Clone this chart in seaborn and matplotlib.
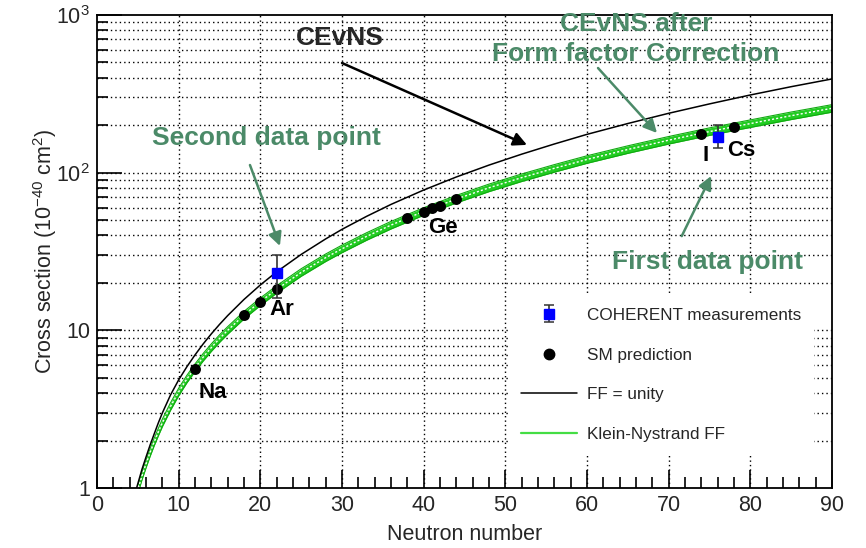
import numpy as np
import pandas as pd
import matplotlib
matplotlib.use("Agg")
import matplotlib.pyplot as plt
from matplotlib.lines import Line2D
from matplotlib.ticker import FixedLocator, NullFormatter
import seaborn as sns

# Flux-averaged CEvNS cross section vs neutron number (10^-40 cm^2)
N_unity = [4.85, 5.5, 6, 6.5, 7, 7.5, 8, 9, 10, 11, 12, 13, 14, 15, 16, 18, 20, 22, 25, 28,
           30, 33, 36, 40, 44, 48, 52, 56, 60, 65, 70, 75, 80, 85, 90]
sigma_unity = [1.0, 1.31, 1.57, 1.87, 2.2, 2.58, 2.99, 3.89, 4.85, 5.87, 6.98, 8.2, 9.5,
               10.9, 12.4, 15.7, 19.4, 23.5, 30.3, 38.0, 43.7, 52.8, 62.9, 77.6, 93.9,
               111.7, 131, 152, 175, 205, 238, 273, 311, 351, 393]

N_kn = [5.06, 5.5, 6, 6.5, 7, 7.5, 8, 9, 10, 11, 12, 13, 14, 15, 16, 18, 20, 22, 25, 28,
        30, 33, 36, 40, 44, 48, 52, 56, 60, 65, 70, 75, 80, 85, 90]
sigma_kn = [1.0, 1.19, 1.42, 1.68, 1.96, 2.26, 2.59, 3.29, 4.07, 4.91, 5.80, 6.76, 7.78,
            8.87, 10.0, 12.5, 15.2, 18.2, 23.3, 28.9, 32.9, 39.4, 46.5, 56.8, 68.0, 80.2,
            93.0, 106.6, 121.3, 140.3, 160.7, 182.3, 204.8, 229.8, 256]
kn_band_frac = 0.055

sm_N = [12, 18, 20, 22, 38, 40, 41, 42, 44, 74, 78]
sm_sigma = [5.7, 12.5, 15.1, 18.3, 51.8, 56.5, 59.4, 61.7, 67.7, 177, 195]

coh_N = [22, 76]
coh_sigma = [23, 169]
coh_err_lo = [7, 26]
coh_err_hi = [7, 31]

nuclei = ["Na", "Ar", "Ge", "I", "Cs"]
nuclei_pos = [(14.2, 4.06), (22.65, 13.5), (42.4, 44.6), (74.57, 129), (78.9, 139)]

x_ticks = list(range(0, 100, 10))
y_ticks = [1, 10, 100, 1000]
y_ticklabels = ["1", "10", "$10^2$", "$10^3$"]

sns.set_theme(style="ticks")
plt.rcParams["font.family"] = ["Liberation Sans", "DejaVu Sans"]
plt.rcParams["mathtext.fontset"] = "custom"
plt.rcParams["mathtext.rm"] = "Liberation Sans"
plt.rcParams["mathtext.it"] = "Liberation Sans:italic"
plt.rcParams["mathtext.bf"] = "Liberation Sans:bold"
plt.rcParams["axes.unicode_minus"] = False

GREEN_TXT = "#4b8a68"
BAND = "#22cc22"

fig = plt.figure(figsize=(8.66, 5.48), dpi=100)
ax = fig.add_axes([97 / 866, 60 / 548, 735 / 866, 473 / 548])
ax.set_yscale("log")
ax.set_xlim(0, 90)
ax.set_ylim(1, 1000)

# grid: dotted lines at x majors and every y tick (major + minor)
for xv in range(10, 90, 10):
    ax.axvline(xv, color="black", lw=1.0, ls=(0, (1, 2.2)), zorder=0.5)
for dec in [1, 10, 100]:
    for m in range(1, 10):
        yv = dec * m
        if 1 < yv < 1000:
            ax.axhline(yv, color="black", lw=1.0, ls=(0, (1, 2.2)), zorder=0.5)

# Klein-Nystrand band
kn = pd.DataFrame({"N": N_kn, "sigma": sigma_kn})
ax.fill_between(kn["N"], kn["sigma"] * (1 - kn_band_frac), kn["sigma"] * (1 + kn_band_frac),
                color=BAND, lw=0, zorder=2)
ax.plot(kn["N"], kn["sigma"] * (1 - kn_band_frac), color="#11aa11", lw=0.8, zorder=2.1)
ax.plot(kn["N"], kn["sigma"] * (1 + kn_band_frac), color="#11aa11", lw=0.8, zorder=2.1)
sns.lineplot(data=kn, x="N", y="sigma", ax=ax, color="white", lw=1.0,
             linestyle=(0, (1.5, 1.5)), zorder=2.2, sort=False)

# form factor = unity
unity = pd.DataFrame({"N": N_unity, "sigma": sigma_unity})
sns.lineplot(data=unity, x="N", y="sigma", ax=ax, color="black", lw=1.1, zorder=3, sort=False)

# SM predictions
sm = pd.DataFrame({"N": sm_N, "sigma": sm_sigma})
sns.scatterplot(data=sm, x="N", y="sigma", ax=ax, color="black", s=62, edgecolor="black",
                linewidth=0, zorder=4)

# COHERENT measurements
coh = ax.errorbar(coh_N, coh_sigma, yerr=[coh_err_lo, coh_err_hi], fmt="s", color="#0000ff",
                  mec="#0000ff", markersize=7.5, ecolor="#333333", elinewidth=1.2, capsize=3.5,
                  capthick=1.1, zorder=5)

# nucleus labels
for name, (nx, ny) in zip(nuclei, nuclei_pos):
    ax.text(nx, ny, name, ha="center", va="center", fontsize=16, fontweight="bold",
            color="black", zorder=6)

# annotations
arrow_kw = dict(arrowstyle="-|>", lw=1.8, mutation_scale=20, shrinkA=0, shrinkB=0)
ax.text(29.75, 715, "CEvNS", ha="center", va="center", fontsize=19, fontweight="bold", zorder=6)
ax.annotate("", xy=(52.65, 150), xytext=(30.0, 496),
            arrowprops=dict(color="black", **arrow_kw), zorder=6)

ax.text(66.0, 705, "CEvNS after\nForm factor Correction", ha="center", va="center",
        multialignment="center", linespacing=1.28, fontsize=19, fontweight="bold",
        color=GREEN_TXT, zorder=6)
ax.annotate("", xy=(68.57, 178.5), xytext=(61.35, 461),
            arrowprops=dict(color=GREEN_TXT, **arrow_kw), zorder=6)

ax.text(20.8, 166, "Second data point", ha="center", va="center", fontsize=19,
        fontweight="bold", color=GREEN_TXT, zorder=6)
ax.annotate("", xy=(22.4, 34.3), xytext=(18.73, 111.8),
            arrowprops=dict(color=GREEN_TXT, **arrow_kw), zorder=6)

ax.text(74.8, 27.1, "First data point", ha="center", va="center", fontsize=19,
        fontweight="bold", color=GREEN_TXT, zorder=6)
ax.annotate("", xy=(75.2, 95.2), xytext=(71.6, 39.6),
            arrowprops=dict(color=GREEN_TXT, **arrow_kw), zorder=6)

# axes styling
ax.set_xlabel("Neutron number", fontsize=15.5, labelpad=6)
ax.set_ylabel("Cross section (10$^{-40}$ cm$^{2}$)", fontsize=15.5)
ax.yaxis.set_label_coords(-0.052, 0.5)
ax.xaxis.set_major_locator(FixedLocator(x_ticks))
ax.xaxis.set_minor_locator(FixedLocator([v for v in range(2, 90, 2) if v % 10]))
ax.set_xticklabels([str(v) for v in x_ticks])
ax.yaxis.set_major_locator(FixedLocator(y_ticks))
ax.set_yticklabels(y_ticklabels)
ax.yaxis.set_minor_locator(FixedLocator([d * m for d in [1, 10, 100] for m in range(2, 10)]))
ax.yaxis.set_minor_formatter(NullFormatter())
ax.tick_params(axis="both", which="major", direction="in", labelsize=15.5, width=1.2,
               color="black", pad=5)
ax.tick_params(axis="x", which="major", length=13)
ax.tick_params(axis="y", which="major", length=18)
ax.tick_params(axis="both", which="minor", direction="in", length=8, width=1.2, color="black")
for sp in ax.spines.values():
    sp.set_linewidth(1.3)
    sp.set_color("black")
    sp.set_visible(True)

# legend on an opaque white box without border
handles = [
    coh,
    Line2D([], [], marker="o", color="black", linestyle="none", markersize=7.5),
    Line2D([], [], color="black", lw=1.1),
    Line2D([], [], color="#44dd44", lw=1.6),
]
labels = ["COHERENT measurements", "SM prediction", "FF = unity", "Klein-Nystrand FF"]
leg = ax.legend(handles, labels, loc="upper left", bbox_to_anchor=(508 / 866, 1 - 295 / 548),
                bbox_transform=fig.transFigure, frameon=True, fancybox=False, framealpha=1,
                facecolor="white", edgecolor="none", fontsize=12.3, handlelength=3.3,
                handletextpad=0.55, labelspacing=1.45, borderpad=0.75, borderaxespad=0)
leg.set_zorder(7)

fig.savefig("out.png", dpi=100, facecolor="white")
